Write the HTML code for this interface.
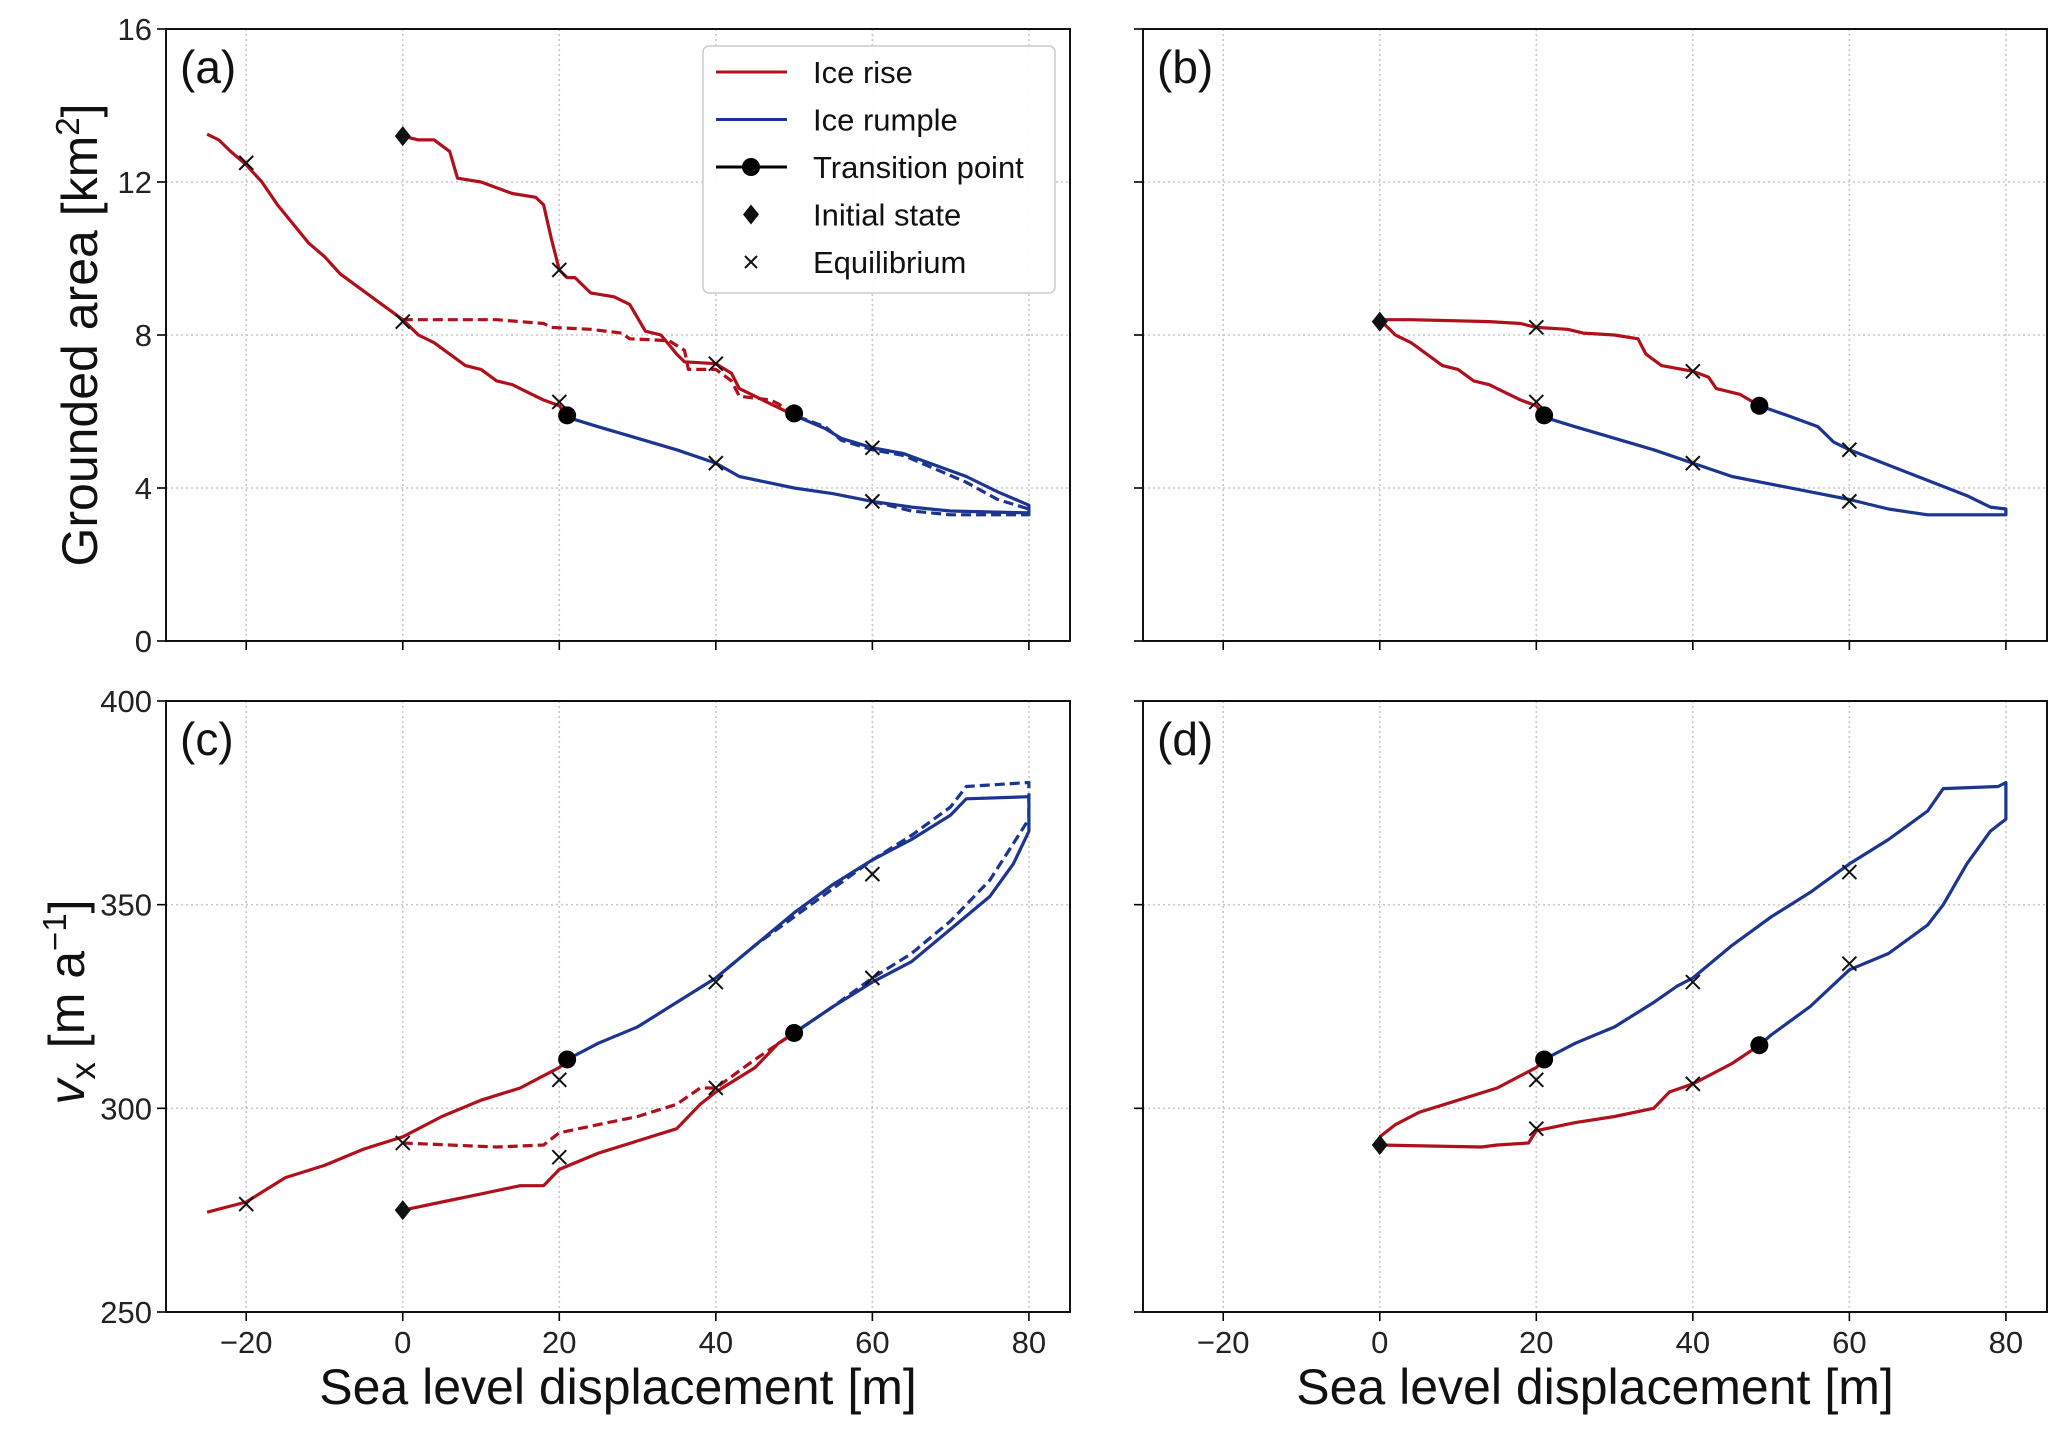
<!DOCTYPE html>
<html><head><meta charset="utf-8"><style>
html,body{margin:0;padding:0;background:#fff}
svg{display:block;font-family:"Liberation Sans",sans-serif}
</style></head><body>
<svg id="fig" width="2067" height="1430" viewBox="0 0 2067 1430"></svg>
<script>
// ---------- data ----------
const xTicks=[-20,0,20,40,60,80];
const yTicksArea=[0,4,8,12,16];
const yTicksVx=[250,300,350,400];
// Panel a
const aRiseRetreat=[[-25,13.25],[-23.5,13.1],[-22,12.8],[-20,12.45],[-18,12.0],[-16,11.4],[-14,10.9],[-12,10.4],[-10,10.05],[-8,9.6],[-6,9.3],[-4,9.0],[-2,8.7],[0,8.4],[2,8.0],[4,7.8],[6,7.5],[8,7.2],[10,7.1],[12,6.8],[14,6.7],[16,6.5],[18,6.3],[20,6.15],[21,5.9]];
const aRumpleLoop=[[21,5.85],[25,5.6],[30,5.3],[35,5.0],[40,4.65],[43,4.3],[50,4.0],[55,3.85],[60,3.65],[65,3.5],[70,3.4],[80,3.35],[80,3.55],[76,3.9],[72,4.3],[68,4.6],[64,4.9],[60,5.05],[56,5.3],[54,5.55],[50,5.9]];
const aRumpleDash=[[60,3.65],[65,3.4],[70,3.3],[80,3.3],[80,3.45],[76,3.7],[72,4.15],[68,4.5],[64,4.85],[60,5.0],[56,5.25],[54,5.6],[50,5.9]];
const aRiseAdvance=[[0,13.2],[2,13.1],[4,13.1],[6,12.8],[7,12.1],[10,12.0],[14,11.7],[17,11.6],[18,11.4],[19,10.5],[20,9.7],[21,9.5],[22,9.5],[24,9.1],[27,9.0],[29,8.8],[31,8.1],[33,8.0],[35,7.5],[36,7.3],[40,7.25],[42,7.0],[43,6.6],[45,6.4],[47,6.2],[48,6.1],[50,5.9]];
const aRiseDash=[[0,8.4],[12,8.4],[18,8.3],[19,8.2],[24,8.15],[28,8.05],[29,7.9],[34,7.85],[36,7.6],[36.5,7.1],[40,7.1],[42,6.8],[43,6.4],[47,6.3],[48,6.2],[50,5.9]];
const aEquil=[[-20,12.5],[0,8.35],[20,9.7],[20,6.25],[40,7.25],[40,4.65],[60,5.05],[60,3.65]];
const aInit=[[0,13.2]];
const aTrans=[[21,5.9],[50,5.95]];
// Panel b
const bRiseRetreat=[[0,8.4],[2,8.0],[4,7.8],[6,7.5],[8,7.2],[10,7.1],[12,6.8],[14,6.7],[16,6.5],[18,6.3],[20,6.15],[21,5.9]];
const bRumpleLoop=[[21,5.85],[25,5.6],[30,5.3],[35,5.0],[40,4.65],[45,4.3],[50,4.1],[55,3.9],[60,3.7],[65,3.45],[70,3.3],[80,3.3],[80,3.45],[78,3.5],[75,3.8],[70,4.2],[65,4.6],[60,5.0],[58,5.2],[56,5.6],[52,5.9],[48.5,6.15]];
const bRiseAdvance=[[0,8.4],[4,8.4],[14,8.35],[18,8.3],[20,8.2],[24,8.15],[26,8.05],[30,8.0],[33,7.9],[34,7.5],[36,7.2],[40,7.05],[42,6.9],[43,6.6],[46,6.45],[48.5,6.15]];
const bEquil=[[20,8.2],[20,6.25],[40,7.05],[40,4.65],[60,5.0],[60,3.65]];
const bInit=[[0,8.35]];
const bTrans=[[21,5.9],[48.5,6.15]];
// Panel c
const cRiseRetreat=[[-25,274.5],[-20,277],[-15,283],[-10,286],[-5,290],[0,293],[5,298],[10,302],[15,305],[18,308],[20,310],[21,312]];
const cRumpleLoop=[[21,312],[25,316],[30,320],[35,326],[40,332],[45,340],[50,348],[55,355],[60,361],[65,366],[70,372],[72,376],[80,376.5],[80,368],[78,360],[75,352],[70,344],[65,336],[60,331],[55,325],[50,318.5]];
const cRumpleDash=[[40,332],[45,340],[50,347],[55,354],[60,361],[65,367],[70,374],[72,379],[80,380],[80,371],[78,365],[75,356],[70,346],[65,338],[60,332],[55,325],[50,318.5]];
const cRiseAdvance=[[0,275],[5,277],[10,279],[15,281],[18,281],[20,285],[25,289],[30,292],[35,295],[38,301],[40,304],[45,310],[48,316],[50,318.5]];
const cRiseDash=[[0,291.5],[6,291],[12,290.5],[18,291],[20,294],[25,296],[30,298],[35,301],[38,305],[40,305],[45,312],[50,318.5]];
const cEquil=[[-20,276.5],[0,291.5],[20,307],[20,288],[40,331],[40,305],[60,357.5],[60,332]];
const cInit=[[0,275]];
const cTrans=[[21,312],[50,318.5]];
// Panel d
const dRiseRetreat=[[0,293],[2,296],[5,299],[10,302],[15,305],[18,308],[20,310],[21,312]];
const dRumpleLoop=[[21,312],[25,316],[30,320],[35,326],[38,330],[40,332],[45,340],[50,347],[55,353],[60,360],[65,366],[70,373],[72,378.5],[79,379],[80,380],[80,371],[78,368],[75,360],[72,350],[70,345],[65,338],[60,334],[55,325],[50,318],[48.5,315.5]];
const dRiseAdvance=[[0,291],[13,290.5],[15,291],[19,291.5],[20,294.5],[25,296.5],[30,298],[35,300],[37,304],[40,306],[45,311],[48.5,315.5]];
const dEquil=[[20,307],[20,295],[40,331],[40,306],[60,358],[60,335.5]];
const dInit=[[0,291]];
const dTrans=[[21,312],[48.5,315.5]];

// ---------- drawing ----------
const NS="http://www.w3.org/2000/svg";
const svg=document.getElementById('fig');
const RED="#b0101c", BLUE="#1b3590";
function mk(tag,attrs,parent){const e=document.createElementNS(NS,tag);for(const k in attrs)e.setAttribute(k,attrs[k]);(parent||svg).appendChild(e);return e;}
const XMIN=-30.25,XMAX=85.25;
function panel(name,L,R,T,B,ymin,ymax,yt,showY,showX,lab){
  const g=mk('g',{});
  
  
  const sx=v=>L+(v-XMIN)/(XMAX-XMIN)*(R-L);
  const sy=v=>B-(v-ymin)/(ymax-ymin)*(B-T);
  xTicks.forEach(t=>{
    const l=mk('line',{x1:sx(t),x2:sx(t),y1:T,y2:B,stroke:"#c8c8c8","stroke-width":1.6,"stroke-dasharray":"2,3"},g);
    
    
    mk('line',{x1:sx(t),x2:sx(t),y1:B,y2:B+9,stroke:"#000","stroke-width":1.6},g);
    if(showX){const tx=mk('text',{x:sx(t),y:B+41,"font-size":31,"text-anchor":"middle",fill:"#222"},g);tx.textContent=t<0?"\u2212"+(-t):t;
      
      }
  });
  yt.forEach(t=>{
    if(t>ymin&&t<ymax){const l=mk('line',{x1:L,x2:R,y1:sy(t),y2:sy(t),stroke:"#c8c8c8","stroke-width":1.6,"stroke-dasharray":"2,3"},g);
      
      }
    mk('line',{x1:L-9,x2:L,y1:sy(t),y2:sy(t),stroke:"#000","stroke-width":1.6},g);
    if(showY){const tx=mk('text',{x:L-14,y:sy(t)+11,"font-size":31,"text-anchor":"end",fill:"#222"},g);tx.textContent=t;
      
      }
  });
  const f=mk('rect',{x:L,y:T,width:R-L,height:B-T,fill:"none",stroke:"#111","stroke-width":2},g);
  
  
  const pl=mk('text',{x:L+14,y:T+54,"font-size":46,fill:"#111"},g);pl.textContent=lab;
  
  
  return {g,sx,sy};
}
function line(P,pts,color,dash,nm){
  const d=pts.map((p,i)=>(i?'L':'M')+P.sx(p[0]).toFixed(1)+','+P.sy(p[1]).toFixed(1)).join('');
  const a={d,fill:"none",stroke:color,"stroke-width":3.2,"stroke-linejoin":"round"};
  if(dash)a["stroke-dasharray"]="10,5";
  const e=mk('path',a,P.g);
  
  
}
function xs(P,pts){pts.forEach(p=>{const x=P.sx(p[0]),y=P.sy(p[1]);
  const e=mk('path',{d:`M${x-7},${y-7}L${x+7},${y+7}M${x-7},${y+7}L${x+7},${y-7}`,stroke:"#111","stroke-width":2,fill:"none"},P.g);
  
  });}
function dia(P,pts){pts.forEach(p=>{const x=P.sx(p[0]),y=P.sy(p[1]);
  const e=mk('path',{d:`M${x},${y-10}L${x+8},${y}L${x},${y+10}L${x-8},${y}Z`,fill:"#111"},P.g);
  
  });}
function dots(P,pts){pts.forEach(p=>{
  const e=mk('circle',{cx:P.sx(p[0]),cy:P.sy(p[1]),r:9,fill:"#000"},P.g);
  
  });}

const PA=panel('panel-a',166,1070,29,641,0,16,yTicksArea,true,false,'(a)');
line(PA,aRiseDash,RED,true,'ice-rise-dashed');
line(PA,aRumpleDash,BLUE,true,'ice-rumple-dashed');
line(PA,aRiseRetreat,RED,false,'ice-rise-retreat');
line(PA,aRiseAdvance,RED,false,'ice-rise-advance');
line(PA,aRumpleLoop,BLUE,false,'ice-rumple-loop');
xs(PA,aEquil);dia(PA,aInit);dots(PA,aTrans);

const PB=panel('panel-b',1143,2047,29,641,0,16,yTicksArea,false,false,'(b)');
line(PB,bRiseRetreat,RED,false,'ice-rise-retreat');
line(PB,bRiseAdvance,RED,false,'ice-rise-advance');
line(PB,bRumpleLoop,BLUE,false,'ice-rumple-loop');
xs(PB,bEquil);dia(PB,bInit);dots(PB,bTrans);

const PC=panel('panel-c',166,1070,701,1312,250,400,yTicksVx,true,true,'(c)');
line(PC,cRiseDash,RED,true,'ice-rise-dashed');
line(PC,cRumpleDash,BLUE,true,'ice-rumple-dashed');
line(PC,cRiseRetreat,RED,false,'ice-rise-retreat');
line(PC,cRiseAdvance,RED,false,'ice-rise-advance');
line(PC,cRumpleLoop,BLUE,false,'ice-rumple-loop');
xs(PC,cEquil);dia(PC,cInit);dots(PC,cTrans);

const PD=panel('panel-d',1143,2047,701,1312,250,400,yTicksVx,false,true,'(d)');
line(PD,dRiseRetreat,RED,false,'ice-rise-retreat');
line(PD,dRiseAdvance,RED,false,'ice-rise-advance');
line(PD,dRumpleLoop,BLUE,false,'ice-rumple-loop');
xs(PD,dEquil);dia(PD,dInit);dots(PD,dTrans);

// legend
const lg=mk('g',{});


mk('rect',{x:703,y:46,width:352,height:247,rx:6,fill:"#fff","fill-opacity":0.9,stroke:"#ccc","stroke-width":1.5},lg);
const items=[["Ice rise","r"],["Ice rumple","b"],["Transition point","t"],["Initial state","d"],["Equilibrium","x"]];
items.forEach((it,i)=>{
  const y=72+i*47.5;
  if(it[1]=="r"||it[1]=="b"||it[1]=="t")mk('line',{x1:716,x2:787,y1:y,y2:y,stroke:it[1]=="r"?RED:it[1]=="b"?BLUE:"#000","stroke-width":3},lg);
  if(it[1]=="t")mk('circle',{cx:751,cy:y,r:9,fill:"#000"},lg);
  if(it[1]=="d")mk('path',{d:`M751,${y-10}L759,${y}L751,${y+10}L743,${y}Z`,fill:"#111"},lg);
  if(it[1]=="x")mk('path',{d:`M745,${y-6}L757,${y+6}M745,${y+6}L757,${y-6}`,stroke:"#111","stroke-width":2},lg);
  const t=mk('text',{x:813,y:y+11,"font-size":31,fill:"#111"},lg);t.textContent=it[0];
  
  
});
</script>
<div style="position:absolute;left:0;top:0;width:2067px;height:1430px;pointer-events:none;font-family:'Liberation Sans',sans-serif;color:#111">
  <div style="position:absolute;left:79px;top:335px;transform:translate(-50%,-50%) rotate(-90deg);font-size:50px;white-space:nowrap">Grounded area [km<sup style="font-size:33px">2</sup>]</div>
  <div style="position:absolute;left:70px;top:1002px;transform:translate(-50%,-50%) rotate(-90deg);font-size:50px;white-space:nowrap"><i>v</i><sub style="font-size:35px">x</sub> [m a<sup style="font-size:33px">−1</sup>]</div>
  <div style="position:absolute;left:618px;top:1387px;transform:translate(-50%,-50%);font-size:50px;white-space:nowrap">Sea level displacement [m]</div>
  <div style="position:absolute;left:1595px;top:1387px;transform:translate(-50%,-50%);font-size:50px;white-space:nowrap">Sea level displacement [m]</div>
</div>
</body></html>
